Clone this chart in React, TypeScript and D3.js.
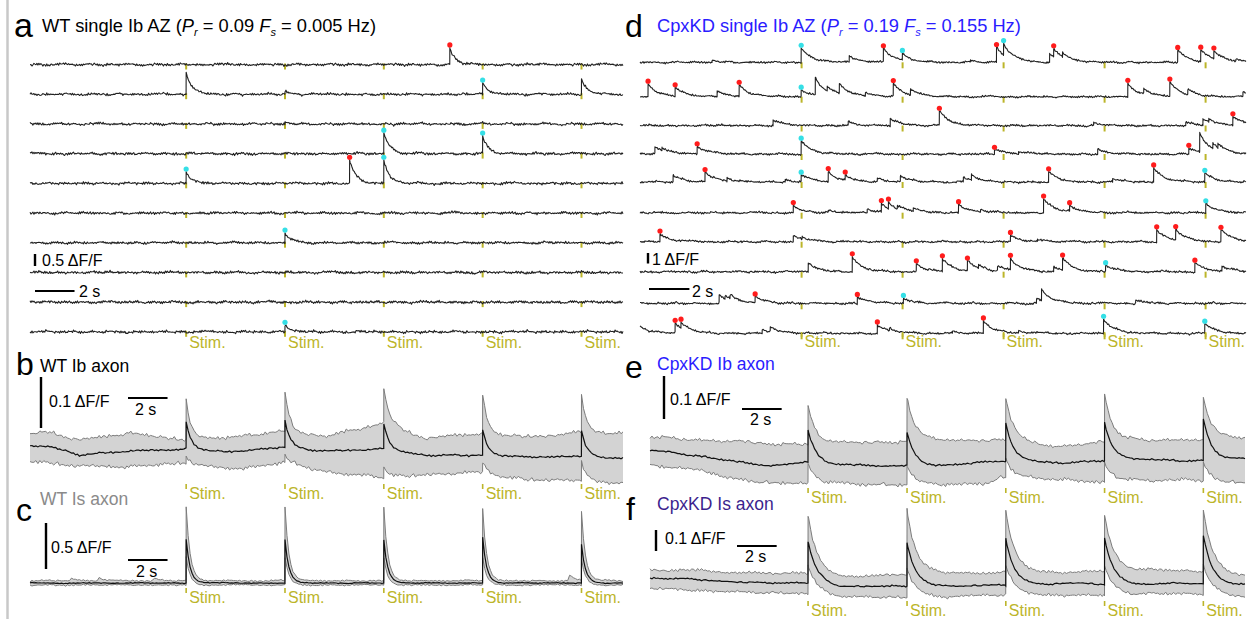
import React from "react";
import * as d3 from "d3";

// ---------------- data ----------------
const DURATION = 30; // seconds shown per trace
const STIMS_WT = [7.9, 12.9, 17.9, 22.9, 27.9];
const STIMS_KD = [8, 13, 18, 23, 28];
const STIMS_KD_AXON = [7.97, 12.96, 17.94, 22.92, 27.9];

// events: [time (s), amplitude (ΔF/F), marker 0 none / 1 spontaneous (red) / 2 evoked (cyan)]
type Ev = [number, number, number];

const WT_AZ_EVENTS: Ev[][] = [
  [[21.24, 0.67, 1]],
  [[7.9, 0.92, 0], [12.9, 0.12, 0], [22.9, 0.46, 2], [27.9, 0.62, 0]],
  [[12.9, 0.08, 0]],
  [[17.9, 0.88, 2], [22.9, 0.7, 2]],
  [[7.9, 0.5, 2], [16.17, 0.96, 1], [17.9, 0.94, 2]],
  [],
  [[12.9, 0.42, 2]],
  [],
  [],
  [[12.9, 0.29, 2]],
];

const KD_AZ_EVENTS: Ev[][] = [
  [[3.57, 0.2, 0], [7.98, 1.4, 2], [10.36, 0.6, 0], [12.05, 1.4, 1], [12.99, 0.55, 2], [16.36, 0.2, 0], [17.65, 1.4, 1], [18.0, 1.1, 2], [20.28, 0.75, 0], [20.48, 0.7, 1], [20.92, 0.45, 0], [26.62, 1.2, 1], [27.76, 1.1, 1], [28.41, 0.8, 1], [29.5, 0.2, 0]],
  [[0.4, 1.2, 1], [1.74, 0.85, 1], [3.82, 0.55, 0], [4.91, 1.05, 1], [7.98, 0.65, 2], [8.68, 1.7, 0], [9.27, 0.4, 0], [9.87, 1.0, 0], [11.16, 0.35, 0], [12.54, 1.2, 1], [13.39, 0.55, 0], [24.15, 1.3, 1], [24.94, 0.45, 0], [26.23, 1.4, 1], [27.12, 0.5, 0], [29.85, 0.5, 0]],
  [[6.59, 0.5, 0], [10.31, 0.35, 0], [12.39, 0.65, 0], [14.82, 1.35, 1], [22.46, 0.2, 0], [27.02, 0.3, 0], [27.87, 0.6, 0], [28.16, 0.3, 0], [29.35, 0.85, 1]],
  [[0.74, 0.65, 0], [1.09, 0.3, 0], [2.83, 0.75, 1], [7.98, 1.25, 2], [17.55, 0.5, 1], [18.74, 0.2, 0], [22.66, 0.45, 0], [27.17, 0.55, 1], [27.71, 1.8, 0], [28.36, 0.5, 0], [28.61, 0.4, 0]],
  [[1.64, 0.65, 0], [3.22, 0.95, 1], [4.31, 0.3, 0], [7.19, 0.2, 0], [7.98, 0.65, 2], [9.32, 0.95, 1], [10.16, 0.45, 1], [11.75, 0.3, 0], [12.89, 0.55, 0], [16.01, 0.45, 0], [16.41, 0.45, 0], [20.23, 0.95, 1], [23.4, 0.3, 0], [25.43, 1.35, 1], [27.96, 0.85, 2]],
  [[7.59, 0.6, 1], [9.32, 0.2, 0], [11.25, 0.35, 0], [11.95, 0.75, 1], [12.3, 0.6, 1], [12.74, 0.3, 0], [13.53, 0.3, 0], [15.77, 0.85, 1], [16.86, 0.2, 0], [19.98, 1.35, 1], [21.27, 0.6, 1], [28.01, 0.95, 2]],
  [[0.99, 0.75, 1], [7.59, 0.55, 0], [8.03, 0.25, 0], [18.34, 0.55, 1], [19.68, 0.2, 0], [25.58, 1.15, 1], [26.52, 1.05, 1], [28.76, 1.15, 1]],
  [[8.33, 0.85, 0], [10.51, 1.35, 1], [13.68, 0.75, 1], [14.97, 1.15, 1], [16.21, 1.0, 1], [16.76, 0.3, 0], [17.7, 0.45, 0], [18.34, 1.1, 1], [20.48, 0.45, 0], [20.92, 1.1, 1], [23.05, 0.65, 2], [27.47, 0.85, 1], [28.81, 0.55, 0]],
  [[3.92, 0.75, 0], [4.21, 0.35, 0], [4.46, 0.35, 0], [5.7, 0.65, 1], [10.76, 0.65, 1], [13.04, 0.45, 2], [19.63, 0.45, 0], [19.88, 1.06, 0], [24.54, 0.3, 0]],
  [[-0.1, 0.85, 0], [1.74, 0.9, 1], [2.03, 0.6, 1], [6.05, 0.35, 0], [6.45, 0.5, 0], [11.75, 0.75, 1], [12.35, 0.25, 0], [15.47, 0.2, 0], [17.0, 1.2, 1], [18.74, 0.2, 0], [22.95, 1.4, 2], [27.96, 0.95, 2]],
];

// averaged axon responses: slow baseline (ΔF/F) at control times, plus stimulus responses
const WT_IB_T = [0, 1, 2.5, 5, 7.8, 10, 12.8, 15, 17.8, 20, 22.8, 25, 27.8, 30];
const WT_IB_MEAN = [0.006, 0.008, -0.01, -0.002, 0.002, -0.004, 0.006, -0.002, 0.002, -0.01, -0.01, -0.014, -0.012, -0.016];
const WT_IB_UP = [0.033, 0.035, 0.02, 0.033, 0.02, 0.025, 0.035, 0.027, 0.053, 0.023, 0.033, 0.025, 0.035, 0.033];
const WT_IB_LO = [-0.025, -0.024, -0.031, -0.033, -0.025, -0.039, -0.024, -0.043, -0.053, -0.049, -0.043, -0.059, -0.059, -0.065];
const WT_IB_RESP_MEAN = [0.052, 0.052, 0.05, 0.05, 0.05];
const WT_IB_RESP_UP = [0.082, 0.082, 0.07, 0.075, 0.07];
const WT_IB_RESP_LO = [0.015, 0.015, 0.02, 0.02, 0.035];

const WT_IS_T = [0, 30];
const WT_IS_MEAN = [0, 0];
const WT_IS_UP = [0.025, 0.025];
const WT_IS_LO = [-0.022, -0.022];
const WT_IS_UP_BUMPS: Ev[] = [[2.1, 0.03, 0], [3.5, 0.04, 0], [6.3, 0.03, 0], [27.3, 0.06, 0]];
const WT_IS_RESP_MEAN = [0.48, 0.47, 0.47, 0.5, 0.42];
const WT_IS_RESP_UP = [0.8, 0.8, 0.8, 0.79, 0.74];
const WT_IS_RESP_LO = [0.3, 0.3, 0.3, 0.3, 0.28];

const KD_IB_T = [0, 1, 2.7, 4.4, 6.1, 7.9, 9.4, 12.0, 14.5, 17.0, 17.8, 20.9, 22.6, 24.2, 26.8, 29.3, 30];
const KD_IB_MEAN = [0.028, 0.023, 0.012, 0, -0.009, 0, -0.007, -0.009, -0.009, 0, 0.002, -0.002, 0.002, 0.007, 0.002, 0.007, 0.007];
const KD_IB_UP = [0.058, 0.056, 0.051, 0.047, 0.044, 0.04, 0.044, 0.047, 0.051, 0.051, 0.051, 0.035, 0.047, 0.051, 0.051, 0.056, 0.056];
const KD_IB_LO = [-0.007, -0.012, -0.019, -0.042, -0.049, -0.049, -0.049, -0.053, -0.053, -0.049, -0.035, -0.042, -0.047, -0.042, -0.042, -0.049, -0.049];
const KD_IB_RESP_MEAN = [0.074, 0.077, 0.09, 0.09, 0.098];
const KD_IB_RESP_UP = [0.092, 0.1, 0.1, 0.11, 0.1];
const KD_IB_RESP_LO = [0.045, 0.045, 0.045, 0.045, 0.045];

const KD_IS_T = [0, 1.9, 4.4, 6.9, 7.8, 9.4, 12.0, 14.5, 17.0, 19.2, 21.7, 24.2, 26.8, 29.3, 30];
const KD_IS_MEAN = [0.024, 0.019, 0.005, 0, 0, -0.019, -0.014, -0.019, -0.01, -0.01, 0, -0.01, 0, -0.01, -0.01];
const KD_IS_UP = [0.062, 0.062, 0.048, 0.048, 0.048, 0.029, 0.038, 0.048, 0.048, 0.052, 0.052, 0.062, 0.062, 0.038, 0.038];
const KD_IS_LO = [-0.024, -0.033, -0.043, -0.048, -0.048, -0.067, -0.067, -0.067, -0.057, -0.057, -0.057, -0.057, -0.048, -0.062, -0.062];
const KD_IS_RESP_MEAN = [0.2, 0.21, 0.22, 0.22, 0.23];
const KD_IS_RESP_UP = [0.28, 0.31, 0.29, 0.27, 0.3];
const KD_IS_RESP_LO = [0.14, 0.14, 0.14, 0.14, 0.14];

// fixed texture used to draw the recording noise on the traces
const TEXTURE = [
  0.31, -0.52, 0.84, -0.18, -0.93, 0.42, 0.07, -0.61, 0.73, -0.29,
  0.55, -0.84, 0.16, 0.95, -0.41, -0.08, 0.62, -0.74, 0.33, -0.22,
  0.81, -0.47, -0.96, 0.38, 0.02, 0.69, -0.63, 0.24, -0.35, 0.91,
  -0.79, 0.51, -0.12, 0.28, -0.71, 0.64, -0.44, 0.13, 0.86, -0.9,
  0.19, -0.53, 0.45, -0.25, 0.72, -0.58, 0.93, -0.32, 0.04, 0.49,
  -0.82, 0.35, -0.06, 0.58, -0.39, 0.77, -0.68, 0.21, -0.87, 0.41, -0.15,
];

// ---------------- styles ----------------
const FONT = "'Liberation Sans', Arial, Helvetica, sans-serif";
const STIM_COLOR = "#bcb52a";
const RED = "#ff1c1c";
const CYAN = "#35dfe6";
const BLUE = "#2a1cff";
const PURPLE = "#3c1f8e";

function jitter(i: number, k: number) {
  const n = TEXTURE.length;
  return TEXTURE[(i + 13 * k) % n] * 0.6 + TEXTURE[(3 * i + 29 * k + 7) % n] * 0.4;
}

// slower wobble from the same texture (linear blend between entries)
function wobble(i: number, k: number) {
  const n = TEXTURE.length;
  const p = i / 9 + 7 * k;
  const a = Math.floor(p);
  const f = p - a;
  return TEXTURE[a % n] * (1 - f) + TEXTURE[(a + 1) % n] * f;
}

function eventValue(t: number, evs: Ev[], tau: number) {
  let v = 0;
  for (const e of evs) {
    const d = t - e[0];
    if (d >= 0) v += e[1] * Math.exp(-d / tau);
  }
  return v;
}

function sampleGrid(dt: number, extra: number[]) {
  const ts = d3.range(0, DURATION + 1e-6, dt);
  for (const t of extra) if (t > 0 && t < DURATION) ts.push(t - 0.004, t);
  return Array.from(new Set(ts.map((v) => +v.toFixed(4)))).sort((a, b) => a - b);
}

const lineGen = d3.line<[number, number]>();

function AZPanel(props: {
  events: Ev[][];
  stims: number[];
  x: d3.ScaleLinear<number, number>;
  bases: number[];
  amp: d3.ScaleLinear<number, number>;
  tau: number;
  jit: number;
  wob: number;
  tickOff: number;
  seed: number;
}) {
  const { events, stims, x, bases, amp, tau, jit, wob, tickOff, seed } = props;
  return (
    <g>
      {events.map((evs, k) => {
        const base = bases[k];
        const ts = sampleGrid(0.05, evs.map((e) => e[0]));
        const pts: [number, number][] = ts.map((t, i) => [
          x(t),
          base - amp(eventValue(t, evs, tau)) + jit * jitter(i, k + seed) + wob * wobble(i, k + seed),
        ]);
        const dots = evs
          .filter((e) => e[2] > 0 && e[0] >= 0)
          .map((e) => {
            let yMin = Infinity;
            ts.forEach((t, i) => {
              if (t >= e[0] - 0.001 && t <= e[0] + 0.06) yMin = Math.min(yMin, pts[i][1]);
            });
            return { cx: x(e[0]), cy: yMin - 2.6, c: e[2] === 1 ? RED : CYAN };
          });
        return (
          <g key={k}>
            {stims.map((s, j) => (
              <line key={j} x1={x(s)} x2={x(s)} y1={base - 1 + tickOff} y2={base + 5 + tickOff} stroke={STIM_COLOR} strokeWidth={2} />
            ))}
            <path d={lineGen(pts) || ""} fill="none" stroke="#202020" strokeWidth={1.1} strokeLinejoin="round" />
            {dots.map((d, j) => (
              <circle key={j} cx={d.cx} cy={d.cy} r={2.6} fill={d.c} />
            ))}
          </g>
        );
      })}
    </g>
  );
}

function BandPanel(props: {
  T: number[];
  mean: number[];
  up: number[];
  lo: number[];
  stims: number[];
  respMean: number[];
  respUp: number[];
  respLo: number[];
  bumpsUp?: Ev[];
  tau: number;
  x: d3.ScaleLinear<number, number>;
  y: d3.ScaleLinear<number, number>;
  jitMean: number;
  jitEdge: number;
  seed: number;
}) {
  const { T, mean, up, lo, stims, respMean, respUp, respLo, bumpsUp, tau, x, y, jitMean, jitEdge, seed } = props;
  const fm = d3.scaleLinear().domain(T).range(mean);
  const fu = d3.scaleLinear().domain(T).range(up);
  const fl = d3.scaleLinear().domain(T).range(lo);
  const evM: Ev[] = stims.map((s, i) => [s, respMean[i], 0]);
  const evU: Ev[] = stims.map((s, i) => [s, respUp[i], 0]);
  const evL: Ev[] = stims.map((s, i) => [s, respLo[i], 0]);
  const ts = sampleGrid(0.1, stims);
  const rows = ts.map((t, i) => {
    const m = y(fm(t) + eventValue(t, evM, tau)) + jitMean * jitter(i, seed) + jitMean * 0.8 * wobble(i, seed + 2);
    let u = y(fu(t) + eventValue(t, evU, tau) + (bumpsUp ? eventValue(t, bumpsUp, 0.25) : 0)) + jitEdge * jitter(i, seed + 3) + jitEdge * 0.6 * wobble(i, seed + 4);
    let l = y(fl(t) + eventValue(t, evL, tau)) + jitEdge * jitter(i, seed + 7) + jitEdge * 0.6 * wobble(i, seed + 8);
    u = Math.min(u, m - 0.8);
    l = Math.max(l, m + 0.8);
    return { x: x(t), m, u, l };
  });
  const area = d3.area<{ x: number; u: number; l: number }>().x((d) => d.x).y0((d) => d.l).y1((d) => d.u);
  const ln = (key: "m" | "u" | "l") => lineGen(rows.map((r) => [r.x, r[key]] as [number, number])) || "";
  return (
    <g>
      <path d={area(rows) || ""} fill="#d3d3d3" stroke="none" />
      <path d={ln("u")} fill="none" stroke="#7c7c7c" strokeWidth={1} />
      <path d={ln("l")} fill="none" stroke="#7c7c7c" strokeWidth={1} />
      <path d={ln("m")} fill="none" stroke="#111" strokeWidth={1.2} />
    </g>
  );
}

function StimLabels(props: { stims: number[]; x: d3.ScaleLinear<number, number>; y: number; tick: boolean }) {
  const { stims, x, y, tick } = props;
  return (
    <g>
      {stims.map((s, i) => (
        <g key={i}>
          {tick && <line x1={x(s)} x2={x(s)} y1={y - 15} y2={y - 10} stroke={STIM_COLOR} strokeWidth={1.6} />}
          <text x={x(s) + 3} y={y} fontSize={16} fill={STIM_COLOR}>
            Stim.
          </text>
        </g>
      ))}
    </g>
  );
}

function ScaleBars(props: {
  vx: number;
  vy: number;
  vLen: number;
  vLabel: string;
  lx: number;
  ly: number;
  hx: number;
  hy: number;
  hLen: number;
  tx: number;
  ty: number;
}) {
  const { vx, vy, vLen, vLabel, lx, ly, hx, hy, hLen, tx, ty } = props;
  return (
    <g>
      <line x1={vx} x2={vx} y1={vy} y2={vy + vLen} stroke="#000" strokeWidth={2.4} />
      <text x={lx} y={ly} fontSize={16} fill="#000">
        {vLabel}
      </text>
      <line x1={hx} x2={hx + hLen} y1={hy} y2={hy} stroke="#000" strokeWidth={2} />
      <text x={tx} y={ty} fontSize={16} fill="#000">
        2 s
      </text>
    </g>
  );
}

function AZTitle(props: { x: number; y: number; fill: string; head: string; pr: string; fs: string }) {
  const { x, y, fill, head, pr, fs } = props;
  return (
    <text x={x} y={y} fontSize={18.3} fill={fill}>
      {head}
      <tspan fontStyle="italic">P</tspan>
      <tspan fontSize={11} dy={4} fontStyle="italic">r</tspan>
      <tspan dy={-4}>{` = ${pr} `}</tspan>
      <tspan fontStyle="italic">F</tspan>
      <tspan fontSize={11} dy={4} fontStyle="italic">s</tspan>
      <tspan dy={-4}>{` = ${fs} Hz)`}</tspan>
    </text>
  );
}

export default function App() {
  const xA = d3.scaleLinear().domain([0, DURATION]).range([30, 623]);
  const xD = d3.scaleLinear().domain([0, DURATION]).range([640, 1246]);
  const xE = d3.scaleLinear().domain([0, DURATION]).range([650, 1245]);

  const ampA = d3.scaleLinear().domain([0, 0.5]).range([0, 12]);
  const ampD = d3.scaleLinear().domain([0, 1]).range([0, 10.5]);
  const basesA = d3.range(10).map((i) => 64.5 + 29.7 * i);
  const basesD = [62.3, 96.7, 125.5, 154, 182, 212.7, 241.7, 271.7, 303.3, 333.3];

  const yB = d3.scaleLinear().domain([0, 0.1]).range([450, 399]);
  const yC = d3.scaleLinear().domain([0, 0.5]).range([583, 537]);
  const yE = d3.scaleLinear().domain([0, 0.1]).range([462, 419]);
  const yF = d3.scaleLinear().domain([0, 0.1]).range([583, 562]);

  const twoSecA = xA(2) - xA(0);
  const twoSecD = xD(2) - xD(0);
  const twoSecE = xE(2) - xE(0);

  return (
    <div style={{ position: "absolute", left: 0, top: 0, width: 1249, height: 619, background: "#fff" }}>
      <svg width={1249} height={619} style={{ display: "block", fontFamily: FONT }}>
        <rect x={0} y={0} width={1249} height={619} fill="#fff" />
        <line x1={7.5} x2={7.5} y1={0} y2={619} stroke="#c8c8c8" strokeWidth={2.5} />

        {/* panel a */}
        <text x={14} y={37} fontSize={34} fill="#000">a</text>
        <AZTitle x={42} y={32} fill="#000" head="WT single Ib AZ (" pr="0.09" fs="0.005" />
        <AZPanel events={WT_AZ_EVENTS} stims={STIMS_WT} x={xA} bases={basesA} amp={ampA} tau={0.3} jit={1.6} wob={1.0} tickOff={0} seed={0} />
        <ScaleBars
          vx={35} vy={254} vLen={ampA(0.5)} vLabel="0.5 ΔF/F" lx={42} ly={266}
          hx={35} hy={291} hLen={twoSecA} tx={79} ty={297}
        />
        <StimLabels stims={STIMS_WT} x={xA} y={348} tick={false} />

        {/* panel d */}
        <text x={625} y={37} fontSize={32} fill="#000">d</text>
        <AZTitle x={657} y={32} fill={BLUE} head="CpxKD single Ib AZ (" pr="0.19" fs="0.155" />
        <AZPanel events={KD_AZ_EVENTS} stims={STIMS_KD} x={xD} bases={basesD} amp={ampD} tau={0.5} jit={1.2} wob={0.9} tickOff={1} seed={5} />
        <ScaleBars
          vx={648} vy={253} vLen={ampD(1)} vLabel="1 ΔF/F" lx={652} ly={265}
          hx={649} hy={289} hLen={twoSecD} tx={692} ty={297}
        />
        <StimLabels stims={STIMS_KD} x={xD} y={347} tick={true} />

        {/* panel b */}
        <text x={16} y={375} fontSize={32} fill="#000">b</text>
        <text x={40} y={372} fontSize={17.5} fill="#000">WT Ib axon</text>
        <BandPanel
          T={WT_IB_T} mean={WT_IB_MEAN} up={WT_IB_UP} lo={WT_IB_LO} stims={STIMS_WT}
          respMean={WT_IB_RESP_MEAN} respUp={WT_IB_RESP_UP} respLo={WT_IB_RESP_LO}
          tau={0.25} x={xA} y={yB} jitMean={1.1} jitEdge={2.3} seed={11}
        />
        <ScaleBars
          vx={41} vy={377} vLen={yB(0) - yB(0.1)} vLabel="0.1 ΔF/F" lx={49} ly={407}
          hx={128} hy={398} hLen={twoSecA} tx={135} ty={415}
        />
        <StimLabels stims={STIMS_WT} x={xA} y={499} tick={true} />

        {/* panel c */}
        <text x={16} y={521} fontSize={32} fill="#000">c</text>
        <text x={40} y={505} fontSize={17.5} fill="#8a8a8a">WT Is axon</text>
        <BandPanel
          T={WT_IS_T} mean={WT_IS_MEAN} up={WT_IS_UP} lo={WT_IS_LO} stims={STIMS_WT}
          respMean={WT_IS_RESP_MEAN} respUp={WT_IS_RESP_UP} respLo={WT_IS_RESP_LO} bumpsUp={WT_IS_UP_BUMPS}
          tau={0.2} x={xA} y={yC} jitMean={0.5} jitEdge={1.0} seed={17}
        />
        <ScaleBars
          vx={46} vy={523} vLen={yC(0) - yC(0.5)} vLabel="0.5 ΔF/F" lx={51} ly={553}
          hx={128} hy={560} hLen={twoSecA} tx={136} ty={577}
        />
        <StimLabels stims={STIMS_WT} x={xA} y={603} tick={true} />

        {/* panel e */}
        <text x={625} y={378} fontSize={32} fill="#000">e</text>
        <text x={657} y={370} fontSize={17.5} fill={BLUE}>CpxKD Ib axon</text>
        <BandPanel
          T={KD_IB_T} mean={KD_IB_MEAN} up={KD_IB_UP} lo={KD_IB_LO} stims={STIMS_KD_AXON}
          respMean={KD_IB_RESP_MEAN} respUp={KD_IB_RESP_UP} respLo={KD_IB_RESP_LO}
          tau={0.4} x={xE} y={yE} jitMean={1.0} jitEdge={2.3} seed={23}
        />
        <ScaleBars
          vx={664} vy={376} vLen={yE(0) - yE(0.1)} vLabel="0.1 ΔF/F" lx={670} ly={405}
          hx={742} hy={409} hLen={twoSecE} tx={750} ty={425}
        />
        <StimLabels stims={STIMS_KD_AXON} x={xE} y={503} tick={true} />

        {/* panel f */}
        <text x={626} y={520} fontSize={32} fill="#000">f</text>
        <text x={657} y={510} fontSize={17.5} fill={PURPLE}>CpxKD Is axon</text>
        <BandPanel
          T={KD_IS_T} mean={KD_IS_MEAN} up={KD_IS_UP} lo={KD_IS_LO} stims={STIMS_KD_AXON}
          respMean={KD_IS_RESP_MEAN} respUp={KD_IS_RESP_UP} respLo={KD_IS_RESP_LO}
          tau={0.45} x={xE} y={yF} jitMean={0.9} jitEdge={1.9} seed={31}
        />
        <ScaleBars
          vx={656} vy={530} vLen={yF(0) - yF(0.1)} vLabel="0.1 ΔF/F" lx={665} ly={544}
          hx={737} hy={546} hLen={twoSecE} tx={745} ty={562}
        />
        <StimLabels stims={STIMS_KD_AXON} x={xE} y={616} tick={true} />
      </svg>
    </div>
  );
}
